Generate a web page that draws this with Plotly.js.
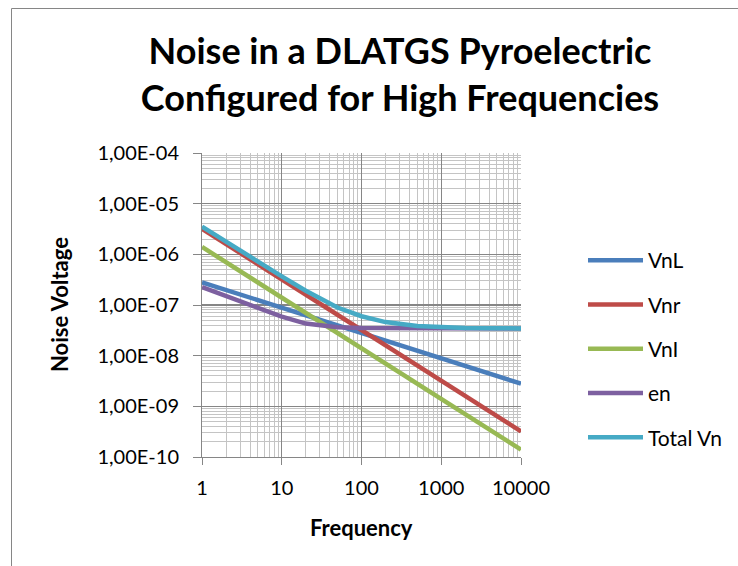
<!DOCTYPE html>
<html>
<head>
<meta charset="utf-8">
<script src="https://cdn.plot.ly/plotly-3.0.1.min.js"></script>
<style>
html, body { margin: 0; padding: 0; background: #ffffff; overflow: hidden; }
#chart { width: 738px; height: 566px; }
</style>
</head>
<body>
<div id="chart"></div>
<script>
// Frequencies (Hz)
var freq = [1, 2, 5, 10, 20, 50, 100, 200, 500, 1000, 2000, 5000, 10000];
// Series values (V)
var VnL = [2.8e-7, 1.98e-7, 1.25e-7, 8.85e-8, 6.26e-8, 3.96e-8, 2.8e-8, 1.98e-8, 1.25e-8, 8.85e-9, 6.26e-9, 3.96e-9, 2.8e-9];
var Vnr = [3.2e-6, 1.6e-6, 6.4e-7, 3.2e-7, 1.6e-7, 6.4e-8, 3.2e-8, 1.6e-8, 6.4e-9, 3.2e-9, 1.6e-9, 6.4e-10, 3.2e-10];
var VnI = [1.4e-6, 7.0e-7, 2.8e-7, 1.4e-7, 7.0e-8, 2.8e-8, 1.4e-8, 7.0e-9, 2.8e-9, 1.4e-9, 7.0e-10, 2.8e-10, 1.4e-10];
var en = [2.25e-7, 1.5e-7, 8.5e-8, 5.9e-8, 4.3e-8, 3.65e-8, 3.5e-8, 3.47e-8, 3.45e-8, 3.45e-8, 3.45e-8, 3.45e-8, 3.45e-8];
var TotalVn = [3.53e-6, 1.77e-6, 7.2e-7, 3.67e-7, 1.91e-7, 8.9e-8, 6.0e-8, 4.6e-8, 3.85e-8, 3.6e-8, 3.5e-8, 3.47e-8, 3.45e-8];

var seriesNames = ["VnL", "Vnr", "VnI", "en", "Total Vn"];
var seriesData = [VnL, Vnr, VnI, en, TotalVn];
var seriesColors = ["#4a7ebb", "#be4b48", "#98b954", "#7d60a0", "#46aac5"];

var xTickVals = [1, 10, 100, 1000, 10000];
var xTickText = ["1", "10", "100", "1000", "10000"];
var yTickVals = [1e-10, 1e-9, 1e-8, 1e-7, 1e-6, 1e-5, 1e-4];
var yTickText = ["1,00E-10", "1,00E-09", "1,00E-08", "1,00E-07", "1,00E-06", "1,00E-05", "1,00E-04"];

var FONT = "Lato, 'Liberation Sans', sans-serif";

var traces = seriesNames.map(function (name, i) {
  return {
    x: freq,
    y: seriesData[i],
    name: name,
    type: "scatter",
    mode: "lines",
    legendgroup: "g" + i,
    line: { color: seriesColors[i], width: 4.5 },
    hoverinfo: "skip"
  };
});

var plotL = 202, plotR = 521, plotT = 153, plotB = 457;
var W = 738, H = 566;
function px2paperX(p) { return (p - plotL) / (plotR - plotL); }
function px2paperY(p) { return (plotB - p) / (plotB - plotT); }

var layout = {
  width: W,
  height: H,
  paper_bgcolor: "#ffffff",
  plot_bgcolor: "#ffffff",
  margin: { l: plotL, r: W - plotR, t: plotT, b: H - plotB, pad: 0 },
  font: { family: FONT, color: "#000000", size: 20 },
  title: {
    text: "Noise in a DLATGS Pyroelectric<br>Configured for High Frequencies",
    font: { family: FONT, size: 36, color: "#000000", weight: "bold" },
    xref: "container", x: 400 / W, xanchor: "center",
    yref: "container", y: 1 - 64 / H, yanchor: "middle"
  },
  xaxis: {
    type: "log",
    range: [0, 4],
    tickmode: "array",
    tickvals: xTickVals,
    ticktext: xTickText,
    ticks: "outside",
    ticklen: 7,
    tickcolor: "#868686",
    tickwidth: 1,
    ticklabelstandoff: 6,
    showline: true,
    linecolor: "#868686",
    linewidth: 1,
    showgrid: true,
    gridcolor: "#868686",
    gridwidth: 1.3,
    zeroline: false,
    tickfont: { family: FONT, size: 20, color: "#000000" },
    minor: { tickmode: "linear", dtick: "D1", showgrid: true, gridcolor: "#c4c4c4", gridwidth: 1, ticks: "" },
    title: { text: "" }
  },
  yaxis: {
    type: "log",
    range: [-10, -4],
    tickmode: "array",
    tickvals: yTickVals,
    ticktext: yTickText,
    ticks: "outside",
    ticklen: 8,
    tickcolor: "#868686",
    tickwidth: 1,
    ticklabelstandoff: 10,
    showline: true,
    linecolor: "#868686",
    linewidth: 1,
    showgrid: true,
    gridcolor: "#868686",
    gridwidth: 1.3,
    zeroline: false,
    tickfont: { family: FONT, size: 20, color: "#000000" },
    minor: { tickmode: "linear", dtick: "D1", showgrid: true, gridcolor: "#c4c4c4", gridwidth: 1, ticks: "" },
    title: { text: "" }
  },
  showlegend: true,
  legend: {
    xref: "container", yref: "container",
    x: 583 / W, y: 1 - 240 / H,
    xanchor: "left", yanchor: "top",
    font: { family: FONT, size: 21, color: "#000000" },
    bgcolor: "rgba(0,0,0,0)",
    borderwidth: 0,
    itemwidth: 55,
    tracegroupgap: 14,
    traceorder: "grouped"
  },
  annotations: [
    {
      text: "<b>Frequency</b>",
      xref: "paper", yref: "paper",
      x: 0.5, y: px2paperY(527),
      xanchor: "center", yanchor: "middle",
      showarrow: false,
      font: { family: FONT, size: 22, color: "#000000" }
    },
    {
      text: "<b>Noise Voltage</b>",
      xref: "paper", yref: "paper",
      x: px2paperX(59), y: 0.5,
      xanchor: "center", yanchor: "middle",
      textangle: -90,
      showarrow: false,
      font: { family: FONT, size: 22, color: "#000000" }
    }
  ],
  shapes: [
    {
      type: "line",
      xref: "paper", yref: "paper",
      x0: px2paperX(11.5), x1: px2paperX(11.5),
      y0: px2paperY(566), y1: px2paperY(8.5),
      line: { color: "#868686", width: 1 },
      layer: "below"
    },
    {
      type: "line",
      xref: "paper", yref: "paper",
      x0: px2paperX(11.5), x1: px2paperX(738),
      y0: px2paperY(8.5), y1: px2paperY(8.5),
      line: { color: "#868686", width: 1 },
      layer: "below"
    }
  ]
};

Plotly.newPlot("chart", traces, layout, { displayModeBar: false, staticPlot: true });
</script>
</body>
</html>
